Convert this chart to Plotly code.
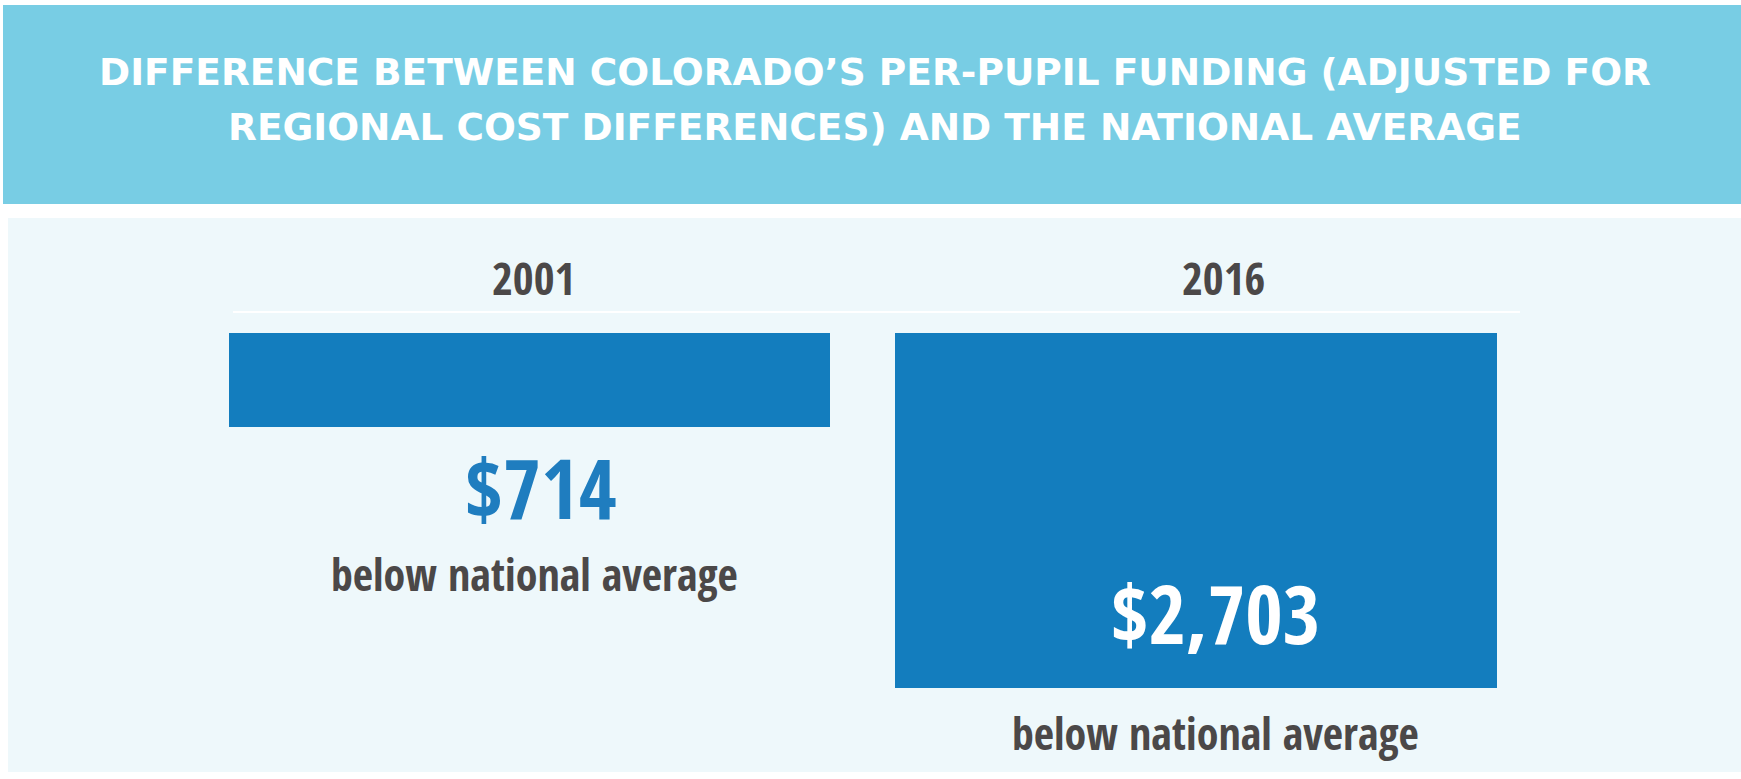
import plotly.graph_objects as go

# ---- data ----
years = ["2001", "2016"]
gap_below_national = [714, 2703]   # dollars below national average
caption = "below national average"
title_lines = [
    "DIFFERENCE BETWEEN COLORADO\u2019S PER-PUPIL FUNDING (ADJUSTED FOR",
    "REGIONAL COST DIFFERENCES) AND THE NATIONAL AVERAGE",
]

W, H = 1741, 779
BAR = "#137dbe"
GRAY = "#4b4848"
COND = "Noto Sans Condensed, Open Sans Condensed, Roboto Condensed, Liberation Sans Narrow, Roboto, sans-serif"

x_idx = list(range(len(years)))
labels = ["${:,}".format(v) for v in gap_below_national]

fig = go.Figure()
fig.add_trace(go.Bar(
    x=x_idx, y=gap_below_national, width=0.903,
    marker=dict(color=BAR, line=dict(width=0)),
    hoverinfo="skip", showlegend=False,
))

# pixel mapping: bar tops at y=333 px, 2703 -> 688 px
top_px, bot_px = 333, 688
ppu = (bot_px - top_px) / gap_below_national[1]
y_top = -top_px / ppu
y_bot = (H - top_px) / ppu
cx0, step = 529.5, 666.5
x_left = -cx0 / step
x_right = (W - cx0) / step

def px(x):
    return x / W

def py(y):
    return 1 - y / H

shapes = [
    dict(type="rect", xref="paper", yref="paper", x0=px(3), x1=px(1741), y0=py(204), y1=py(5),
         fillcolor="#78cde4", line=dict(width=0), layer="below"),
    dict(type="rect", xref="paper", yref="paper", x0=px(8), x1=px(1741), y0=py(772), y1=py(218),
         fillcolor="#eef8fb", line=dict(width=0), layer="below"),
    dict(type="line", xref="paper", yref="paper", x0=px(233), x1=px(1520), y0=py(312), y1=py(312),
         line=dict(color="#ffffff", width=2), layer="below"),
]

ann = []
title_y = [72, 127]
for t, yy in zip(title_lines, title_y):
    ann.append(dict(text=t, xref="paper", yref="paper", x=px(875), y=py(yy), showarrow=False,
                    xanchor="center", yanchor="middle",
                    font=dict(family="DejaVu Sans", size=37.5, color="#ffffff", weight="bold")))

year_shift = [4, 27]
val_shift = [11, 19]
for i, (yr, v, lab) in enumerate(zip(years, gap_below_national, labels)):
    ann.append(dict(text=yr, x=i, y=0, xref="x", yref="y", showarrow=False,
                    xanchor="center", yanchor="middle", yshift=56, xshift=year_shift[i],
                    font=dict(family=COND, size=45, color=GRAY, weight="bold")))
    if i == 0:
        ann.append(dict(text=lab, x=i, y=v, xref="x", yref="y", showarrow=False,
                        xanchor="center", yanchor="middle", yshift=-60, xshift=val_shift[i],
                        font=dict(family=COND, size=82, color="#1f7dbf", weight="bold")))
        ann.append(dict(text=caption, x=i, y=v, xref="x", yref="y", showarrow=False,
                        xanchor="center", yanchor="middle", yshift=-147, xshift=5,
                        font=dict(family=COND, size=44, color=GRAY, weight="bold")))
    else:
        ann.append(dict(text=lab, x=i, y=v, xref="x", yref="y", showarrow=False,
                        xanchor="center", yanchor="middle", yshift=76, xshift=val_shift[i],
                        font=dict(family=COND, size=81, color="#ffffff", weight="bold")))
        ann.append(dict(text=caption, x=i, y=v, xref="x", yref="y", showarrow=False,
                        xanchor="center", yanchor="middle", yshift=-45, xshift=19,
                        font=dict(family=COND, size=44, color=GRAY, weight="bold")))

fig.update_layout(
    width=W, height=H,
    margin=dict(l=0, r=0, t=0, b=0, pad=0),
    paper_bgcolor="#ffffff", plot_bgcolor="rgba(0,0,0,0)",
    xaxis=dict(range=[x_left, x_right], visible=False, fixedrange=True),
    yaxis=dict(range=[y_bot, y_top], visible=False, fixedrange=True),
    shapes=shapes, annotations=ann, bargap=0,
)

fig.write_html("out.html", config={"displayModeBar": False},
               post_script="document.body.style.margin='0';")
